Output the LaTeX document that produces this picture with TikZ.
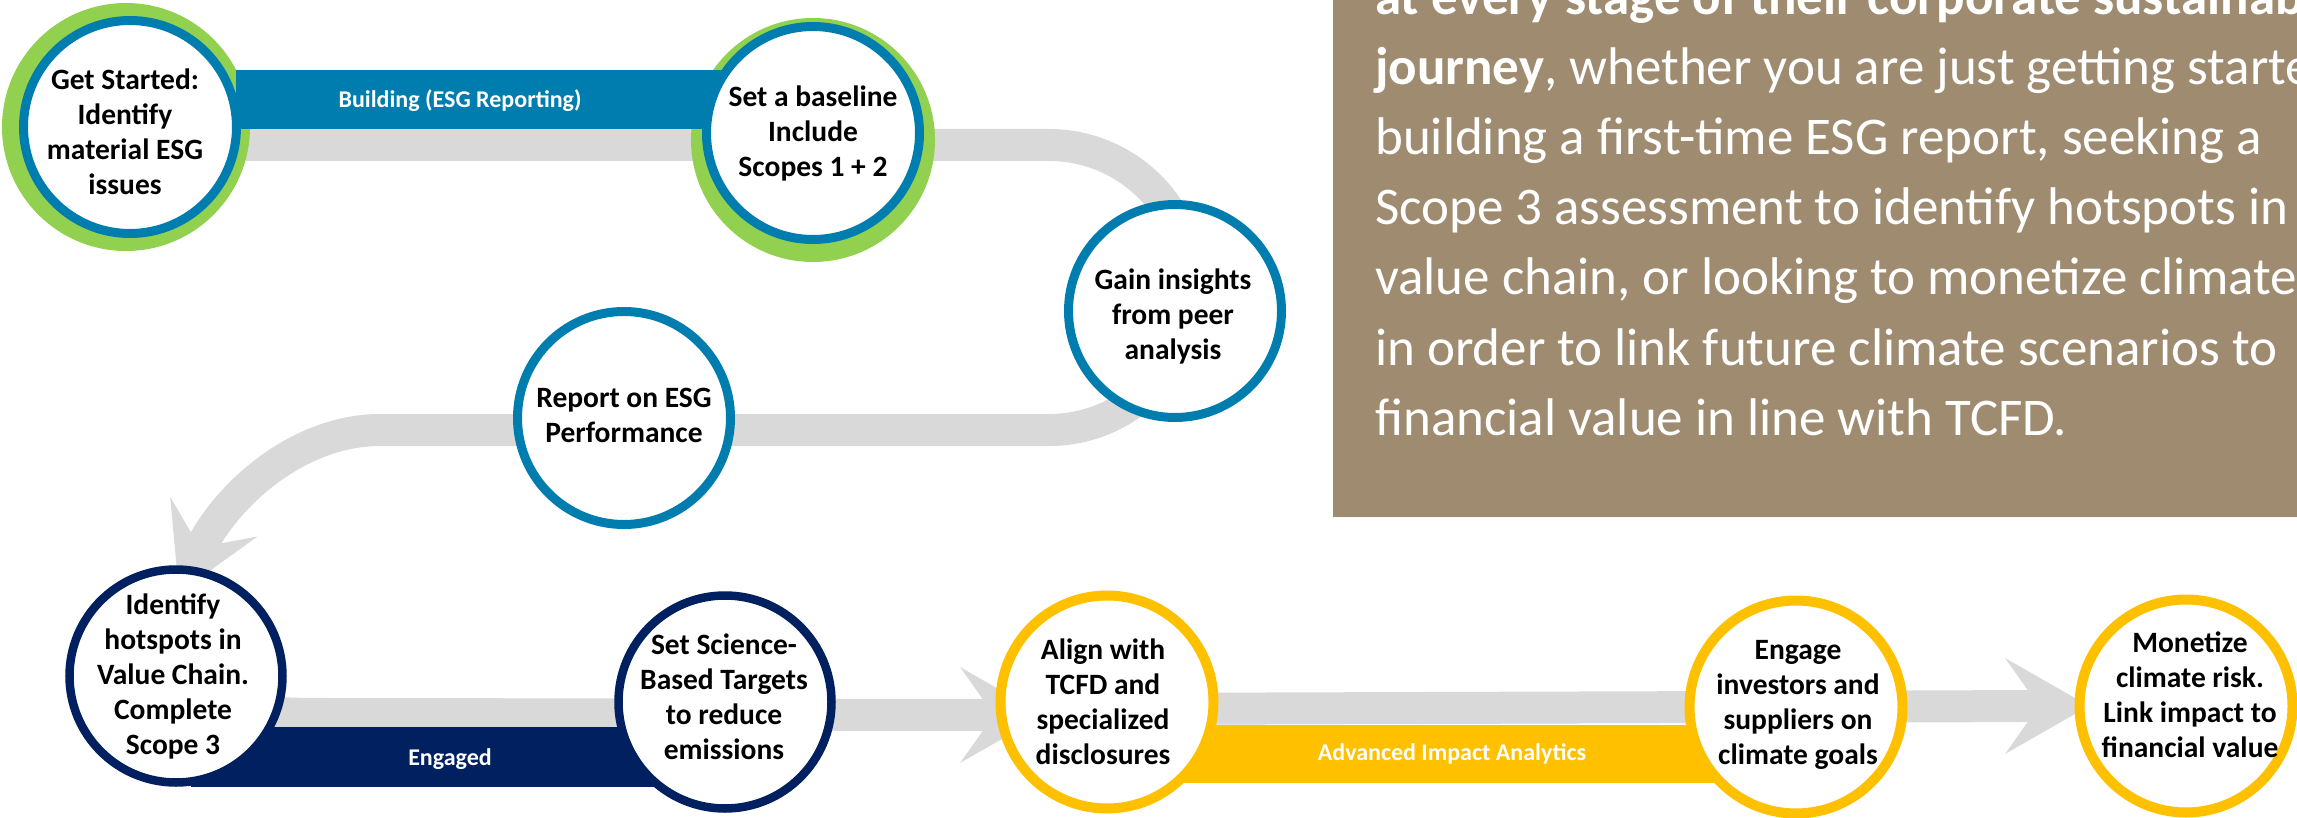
\documentclass[tikz,border=0pt]{standalone}
\usepackage{fontspec}
\setmainfont{Carlito}
\usetikzlibrary{calc}

\definecolor{trackgrey}{HTML}{D9D9D9}
\definecolor{esgblue}{RGB}{0,125,175}
\definecolor{esggreen}{HTML}{92D050}
\definecolor{esgnavy}{HTML}{002060}
\definecolor{esggold}{HTML}{FFC000}
\definecolor{esgtan}{RGB}{158,139,112}

\pgfdeclarelayer{trk}
\pgfdeclarelayer{halo}
\pgfdeclarelayer{band}
\pgfsetlayers{trk,halo,band,main}

\tikzset{
  stage/.style={circle, draw, line width=9pt, fill=white, minimum size=213pt, inner sep=0pt},
  bluestage/.style={stage, draw=esgblue},
  navystage/.style={stage, draw=esgnavy, line width=8.5pt},
  goldstage/.style={stage, draw=esggold, line width=10pt},
  stagetext/.style={align=center, inner sep=0pt, font=\bfseries\fontsize{29.5}{35}\selectfont},
  track/.style={draw=trackgrey, line width=32pt},
  bandlabel/.style={anchor=base, inner sep=0pt, text=white, font=\bfseries\fontsize{24}{28}\selectfont},
  head/.pic={\fill[trackgrey] (0,0) -- (-84,48) -- (-50,0) -- (-84,-48) -- cycle;},
  boxtext/.style={anchor=base west, inner sep=0pt, text=white, font=\fontsize{53}{70}\selectfont},
}

\begin{document}
\begin{tikzpicture}[x=1pt,y=-1pt]
\useasboundingbox (0,0) rectangle (2297,818);

% stage circles
\node[bluestage] (c1) at (130,127) {};
\node[bluestage] (c2) at (813,133) {};
\node[bluestage] (c3) at (1175,311) {};
\node[bluestage] (c4) at (624,418) {};
\node[navystage] (c5) at (176,676) {};
\node[navystage] (c6) at (725,702) {};
\node[goldstage] (c7) at (1107,702) {};
\node[goldstage] (c8) at (1796,707) {};
\node[goldstage] (c9) at (2186,706) {};

% stage texts
\node[stagetext] (t1) at (125,132) {Get Started:\\Identify\\material ESG\\issues};
\node[stagetext] (t2) at (813,133) {Set a baseline\\Include\\Scopes 1 + 2};
\node[stagetext] (t3) at (1173,316) {Gain insights\\from peer\\analysis};
\node[stagetext] (t4) at (624,415) {Report on ESG\\Performance};
\node[stagetext] (t5) at (173,676) {Identify\\hotspots in\\Value Chain.\\Complete\\Scope 3};
\node[stagetext] (t6) at (724,697) {Set Science-\\Based Targets\\to reduce\\emissions};
\node[stagetext] (t7) at (1103,702) {Align with\\TCFD and\\specialized\\disclosures};
\node[stagetext] (t8) at (1798,705) {Engage\\investors and\\suppliers on\\climate goals};
\node[stagetext] (t9) at (2190,695) {Monetize\\climate risk.\\Link impact to\\financial value};

% green halos behind the first two stages
\begin{pgfonlayer}{halo}
  \fill[esggreen] (126,127) circle (124);
  \fill[esggreen] (813,140) circle (122);
\end{pgfonlayer}

% phase bands
\begin{pgfonlayer}{band}
  \fill[esgblue] (236,70) rectangle (727,129);
  \fill[esgnavy] (191,727) rectangle (680,787);
  \fill[esggold] (1150,725) rectangle (1750,783);
\end{pgfonlayer}
\node[bandlabel] (lb1) at (460,108) {Building (ESG Reporting)};
\node[bandlabel] (lb2) at (450,765) {Engaged};
\node[bandlabel] (lb3) at (1452,760) {Advanced Impact Analytics};

% grey journey track
\begin{pgfonlayer}{trk}
  \coordinate (a1) at (1049,145);
  \coordinate (a2) at (1049,430);
  \coordinate (a3) at (380,430);
  \coordinate (h1s) at (196,557);
  \coordinate (h1) at (179,593);
  \draw[track] (c1 |- a1) -- (a1)
     .. controls (1127.7,145) and (1191.5,208.8) .. (1191.5,287.5)
     .. controls (1191.5,366.2) and (1127.7,430) .. (a2)
     -- (a3) .. controls (300,430) and (225,493) .. (h1s);
  \pic[rotate=-114.5] at (h1) {head};

  \coordinate (b1) at (340,714);
  \coordinate (h2s) at (1004,715);
  \coordinate (h2) at (1044,715);
  \draw[track] (c5.center) .. controls (250,714) .. (b1) -- (h2s);
  \pic at (h2) {head};

  \coordinate (b2) at (1107,709);
  \coordinate (h3s) at (2049,706);
  \coordinate (h3) at (2089,706);
  \draw[track] (c7 |- b2) -- (h3s);
  \pic at (h3) {head};
\end{pgfonlayer}

% description panel
\fill[esgtan] (1333,0) rectangle (2297,517);
\begin{scope}
  \clip (1333,0) rectangle (2297,517);
  \node[boxtext] (p1) at (1375,15) {\textbf{at every stage of their corporate sustainability}};
  \node[boxtext] (p2) at (1375,85) {\textbf{journey}, whether you are just getting started,};
  \node[boxtext] (p3) at (1375,155) {building a first-time ESG report, seeking a};
  \node[boxtext] (p4) at (1375,225) {Scope 3 assessment to identify hotspots in};
  \node[boxtext] (p5) at (1375,295) {value chain, or looking to monetize climate};
  \node[boxtext] (p6) at (1375,365) {in order to link future climate scenarios to};
  \node[boxtext] (p7) at (1375,435) {financial value in line with TCFD.};
\end{scope}
\end{tikzpicture}
\end{document}
